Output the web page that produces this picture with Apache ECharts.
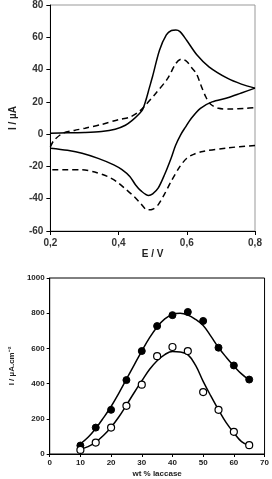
<!DOCTYPE html>
<html><head><meta charset="utf-8">
<script src="https://cdn.jsdelivr.net/npm/echarts@6/dist/echarts.min.js"></script>
<style>html,body{margin:0;padding:0;background:#fff}#c{width:272px;height:479px}</style>
</head><body><div id="c"></div>
<script>
// ---- Top chart: cyclic voltammograms ----
var cvTicksX = ['0,2', '0,4', '0,6', '0,8'];
var solidFwdE = [0.20,0.25,0.30,0.35,0.39,0.42,0.44,0.46,0.47,0.48,0.49,0.50,0.52,0.54,0.555,0.568,0.58,0.60,0.63,0.665,0.72,0.76,0.80];
var solidFwdI = [0.5,0.8,1.0,1.6,3,5.5,8.5,12.5,15,21,28.5,36,52,61.5,64.2,64.5,63.5,58,49,41.7,34.5,31,28.5];
var solidRevE = [0.80,0.76,0.72,0.674,0.64,0.614,0.595,0.582,0.567,0.554,0.535,0.516,0.50,0.488,0.465,0.45,0.433,0.41,0.386,0.34,0.293,0.25,0.20];
var solidRevI = [28.5,25.5,22.5,20,16,10,4,-0.4,-7,-14.9,-25,-33.5,-37,-38,-35,-31.5,-26.2,-22,-19,-15,-11.8,-10,-8.7];
var dashFwdE = [0.20,0.21,0.237,0.27,0.302,0.35,0.40,0.433,0.46,0.479,0.51,0.544,0.568,0.585,0.60,0.615,0.628,0.642,0.656,0.67,0.693,0.73,0.77,0.80];
var dashFwdI = [-8,-4,0.6,2.3,3.7,6,9,10.5,14,18,25.5,34.5,43.8,46.5,45,41,37.6,30,23,18.5,16,15.5,16,16.5];
var dashRevE = [0.80,0.72,0.647,0.62,0.60,0.58,0.554,0.535,0.516,0.50,0.484,0.465,0.445,0.423,0.395,0.367,0.33,0.293,0.25,0.20];
var dashRevI = [-7,-8.5,-10.7,-12.5,-14.9,-20,-29.3,-37,-43.8,-46.5,-46.9,-43,-38.5,-34.5,-29.5,-26.2,-23.5,-22.1,-22,-22.1];

// ---- Bottom chart: current vs wt % laccase ----
var wt = [10,15,20,25,30,35,40,45,50,55,60,65];
var filledPts = [48,150,251,420,585,727,789,807,756,604,503,423];
var openPts = [23,65,150,274,394,556,608,585,352,251,126,50];
var fitWt = [10,12.5,15,17.5,20,22.5,25,27.5,30,32.5,35,37.5,40,42.5,45,47.5,50,52.5,55,57.5,60,62.5,65];
var filledFit = [58,95,145,205,270,345,425,505,585,660,722,768,793,800,790,765,730,670,605,550,500,455,420];
var openFit = [28,42,68,105,152,210,278,348,415,480,530,565,583,580,565,505,413,330,251,178,120,70,48];

function zip(a, b) { return a.map(function (v, i) { return [v, b[i]]; }); }

var chart = echarts.init(document.getElementById('c'), null, {renderer: 'canvas'});
var font = 'Liberation Sans, Arial, sans-serif';
var lineBlack = {color: '#000', width: 1.5};

chart.setOption({
  animation: false,
  backgroundColor: '#fff',
  grid: [
    {left: 40, right: 17, top: 5, height: 226, show: true, borderColor: '#999', borderWidth: 1},
    {left: 35, right: 5, top: 278, height: 176, show: true, borderColor: '#000', borderWidth: 1}
  ],
  xAxis: [
    {gridIndex: 0, type: 'value', min: 0.2, max: 0.8, interval: 0.2,
     name: 'E / V', nameLocation: 'middle', nameGap: 18,
     nameTextStyle: {fontFamily: font, fontSize: 10, fontWeight: 'bold', color: '#222'},
     axisLine: {onZero: false, lineStyle: {color: '#000', width: 1}},
     axisTick: {show: true, length: 4, lineStyle: {color: '#000'}},
     axisLabel: {margin: 7, fontFamily: font, fontSize: 10, fontWeight: 'bold', color: '#333',
       formatter: function (v) { var i = Math.round((v - 0.2) / 0.2); return cvTicksX[i] || ''; }},
     splitLine: {show: false}},
    {gridIndex: 1, type: 'value', min: 0, max: 70, interval: 10,
     name: 'wt % laccase', nameLocation: 'middle', nameGap: 16,
     nameTextStyle: {fontFamily: font, fontSize: 8, fontWeight: 'bold', color: '#222'},
     axisLine: {onZero: false, lineStyle: {color: '#000', width: 1}},
     axisTick: {show: true, length: 3, lineStyle: {color: '#000'}},
     axisLabel: {margin: 5, fontFamily: font, fontSize: 8, fontWeight: 'bold', color: '#222'},
     splitLine: {show: false}}
  ],
  yAxis: [
    {gridIndex: 0, type: 'value', min: -60, max: 80, interval: 20,
     name: 'I / µA', nameLocation: 'middle', nameGap: 26,
     nameTextStyle: {fontFamily: font, fontSize: 10, fontWeight: 'bold', color: '#222'},
     axisLine: {show: true, onZero: false, lineStyle: {color: '#000', width: 1}},
     axisTick: {show: true, length: 4, lineStyle: {color: '#000'}},
     axisLabel: {margin: 7, fontFamily: font, fontSize: 10, fontWeight: 'bold', color: '#333'},
     splitLine: {show: false}},
    {gridIndex: 1, type: 'value', min: 0, max: 1000, interval: 200,
     name: 'I / µA.cm⁻²', nameLocation: 'middle', nameGap: 24,
     nameTextStyle: {fontFamily: font, fontSize: 8, fontWeight: 'bold', color: '#222'},
     axisLine: {show: true, onZero: false, lineStyle: {color: '#000', width: 1}},
     axisTick: {show: true, length: 3, lineStyle: {color: '#000'}},
     axisLabel: {margin: 5, fontFamily: font, fontSize: 8, fontWeight: 'bold', color: '#222',
       formatter: function (v) { return String(v); }},
     splitLine: {show: false}}
  ],
  series: [
    {type: 'line', xAxisIndex: 0, yAxisIndex: 0, data: zip(solidFwdE, solidFwdI), smooth: 0.3, showSymbol: false, lineStyle: lineBlack},
    {type: 'line', xAxisIndex: 0, yAxisIndex: 0, data: zip(solidRevE, solidRevI), smooth: 0.3, showSymbol: false, lineStyle: lineBlack},
    {type: 'line', xAxisIndex: 0, yAxisIndex: 0, data: zip(dashFwdE, dashFwdI), smooth: 0.3, showSymbol: false, lineStyle: {color: '#000', width: 1.5, type: [6, 4]}},
    {type: 'line', xAxisIndex: 0, yAxisIndex: 0, data: zip(dashRevE, dashRevI), smooth: 0.3, showSymbol: false, lineStyle: {color: '#000', width: 1.5, type: [6, 4]}},
    {type: 'line', xAxisIndex: 1, yAxisIndex: 1, data: zip(fitWt, filledFit), smooth: 0.4, showSymbol: false, lineStyle: lineBlack, z: 2},
    {type: 'line', xAxisIndex: 1, yAxisIndex: 1, data: zip(fitWt, openFit), smooth: 0.4, showSymbol: false, lineStyle: lineBlack, z: 2},
    {type: 'scatter', xAxisIndex: 1, yAxisIndex: 1, data: zip(wt, filledPts), symbol: 'circle', symbolSize: 7,
     itemStyle: {color: '#000', borderColor: '#000', borderWidth: 1, opacity: 1}, z: 3},
    {type: 'scatter', xAxisIndex: 1, yAxisIndex: 1, data: zip(wt, openPts), symbol: 'circle', symbolSize: 7,
     itemStyle: {color: '#fff', borderColor: '#000', borderWidth: 1.2, opacity: 1}, z: 3}
  ]
});
</script></body></html>
